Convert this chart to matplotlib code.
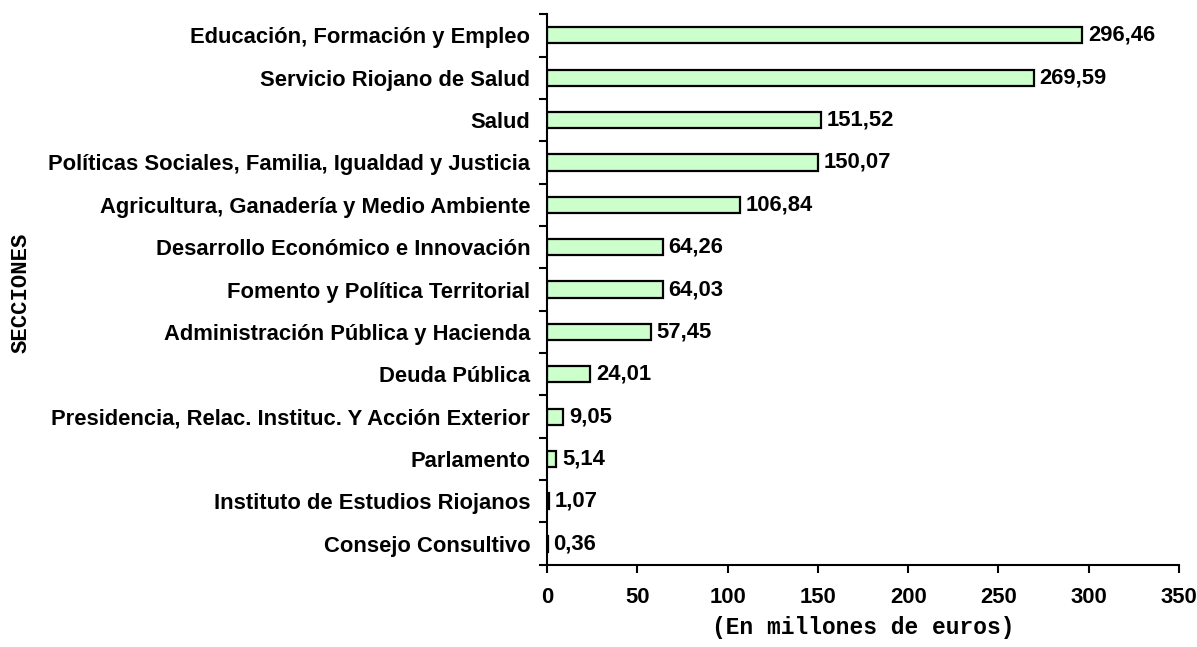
import matplotlib
matplotlib.use("Agg")
import matplotlib.pyplot as plt
import numpy as np

# Datos (millones de euros)
secciones = [
    "Educación, Formación y Empleo",
    "Servicio Riojano de Salud",
    "Salud",
    "Políticas Sociales, Familia, Igualdad y Justicia",
    "Agricultura, Ganadería y Medio Ambiente",
    "Desarrollo Económico e Innovación",
    "Fomento y Política Territorial",
    "Administración Pública y Hacienda",
    "Deuda Pública",
    "Presidencia, Relac. Instituc. Y Acción Exterior",
    "Parlamento",
    "Instituto de Estudios Riojanos",
    "Consejo Consultivo",
]
importes = [296.46, 269.59, 151.52, 150.07, 106.84, 64.26, 64.03, 57.45, 24.01, 9.05, 5.14, 1.07, 0.36]

fs = 15.8

fig = plt.figure(figsize=(11.97, 6.47), dpi=100)
ax = fig.add_axes([0.457, 0.127, 0.528, 0.851])

y = np.arange(len(secciones))[::-1]
ax.barh(y, importes, height=0.38, color="#CCFFCC", edgecolor="black", linewidth=1.6)

for yi, v in zip(y, importes):
    ax.annotate(f"{v:.2f}".replace(".", ","), (v, yi), xytext=(4, 0),
                textcoords="offset points", va="center", ha="left",
                fontsize=fs, fontweight="bold", family="Liberation Sans")

ax.set_xlim(0, 350)
ax.set_ylim(-0.5, len(secciones) - 0.5)
ax.set_xticks(np.arange(0, 351, 50))
ax.set_yticks(y)
ax.set_yticklabels(secciones)
ax.set_yticks(np.arange(-0.5, len(secciones), 1), minor=True)
ax.tick_params(axis="y", which="major", length=0, pad=12)
ax.tick_params(axis="y", which="minor", length=6, width=1.5, direction="out")
ax.tick_params(axis="x", length=6, width=1.5, direction="out", pad=10)

for lbl in ax.get_xticklabels() + ax.get_yticklabels():
    lbl.set_fontsize(fs)
    lbl.set_fontweight("bold")
    lbl.set_family("Liberation Sans")

for s in ["top", "right"]:
    ax.spines[s].set_visible(False)
ax.spines["left"].set_linewidth(1.5)
ax.spines["bottom"].set_linewidth(1.5)

fig.text(0.018, 0.547, "SECCIONES", rotation=90, va="center", ha="center",
         fontsize=16, fontweight="bold", family="Liberation Mono")
ax.set_xlabel("(En millones de euros)", fontsize=16.5, fontweight="bold",
              family="Liberation Mono", labelpad=6)

fig.savefig("out.png", dpi=100)
